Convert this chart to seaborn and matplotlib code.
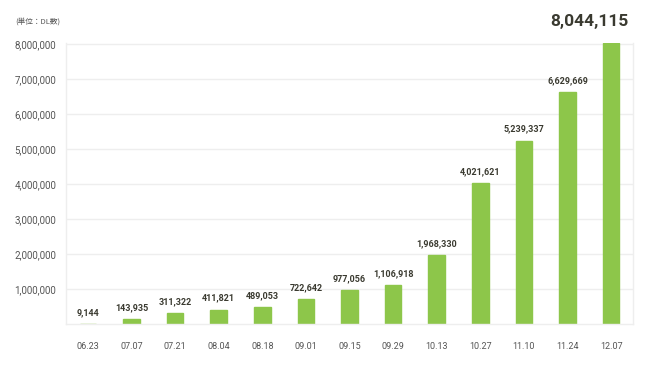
import matplotlib
matplotlib.use("Agg")
import matplotlib.pyplot as plt
import seaborn as sns
import pandas as pd
from matplotlib.ticker import FuncFormatter

dates = ["06.23", "07.07", "07.21", "08.04", "08.18", "09.01", "09.15",
         "09.29", "10.13", "10.27", "11.10", "11.24", "12.07"]
downloads = [9144, 143935, 311322, 411821, 489053, 722642, 977056,
             1106918, 1968330, 4021621, 5239337, 6629669, 8044115]

df = pd.DataFrame({"date": dates, "dl": downloads})

sns.set_theme(style="white")
plt.rcParams["font.family"] = ["Roboto", "Noto Sans CJK JP", "DejaVu Sans"]

fig = plt.figure(figsize=(6.5, 3.66), dpi=100)
ax = fig.add_axes([66/650, 1-324/366, (633-66)/650, (324-43)/366])

bar_color = "#8dc64a"
sns.barplot(data=df, x="date", y="dl", color=bar_color, width=0.38,
            saturation=1, ax=ax, edgecolor=bar_color, linewidth=1.0)

ax.set_ylim(0, 8.03e6)
ax.set_xlim(-0.5, len(dates)-0.5)
ax.set_yticks([1e6*i for i in range(1, 9)])
ax.yaxis.set_major_formatter(FuncFormatter(lambda v, p: f"{int(v):,}"))
ax.grid(axis="y", color="#eeeeee", linewidth=1)
ax.set_axisbelow(True)
for s in ["left", "bottom", "right"]:
    ax.spines[s].set_color("#eeeeee")
    ax.spines[s].set_linewidth(1)
ax.spines["top"].set_visible(False)
ax.set_xlabel("")
ax.set_ylabel("")
ax.tick_params(axis="y", length=0, labelsize=7, colors="#555555", pad=7)
ax.tick_params(axis="x", length=0, labelsize=6.5, colors="#555555", pad=13)

for i, v in enumerate(downloads[:-1]):
    ax.annotate(f"{v:,}", (i, v), xytext=(0, 5), textcoords="offset points",
                ha="center", va="bottom", fontsize=6.5, fontweight="bold",
                color="#3a3a30")
ax.annotate(f"{downloads[-1]:,}", (len(dates)-1, downloads[-1]),
            xytext=(-16, 10), textcoords="offset points", ha="center",
            va="bottom", fontsize=12.5, fontweight="bold", color="#3a3a30")

fig.text(15/650, 1-22/366, "(単位：DL数)", fontsize=5.5, color="#555555",
         va="center", ha="left", family=["Noto Sans CJK JP", "DejaVu Sans"])

fig.savefig("out.png", dpi=100)
